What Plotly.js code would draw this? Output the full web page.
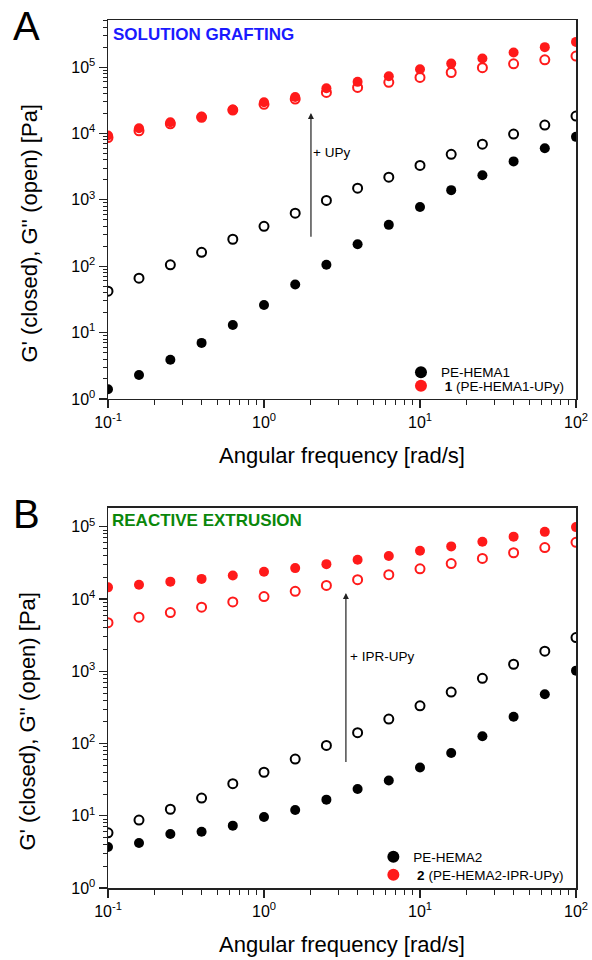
<!DOCTYPE html>
<html><head><meta charset="utf-8">
<script src="https://cdn.plot.ly/plotly-3.0.1.min.js"></script>
<style>html,body{margin:0;padding:0;background:#fff;}#chart{width:592px;height:960px;}</style>
</head><body><div id="chart"></div>
<script>
// Angular frequency [rad/s]
const freq = [0.1,0.158,0.251,0.398,0.631,1,1.585,2.512,3.981,6.31,10,15.85,25.12,39.81,63.1,100];

// Panel A – solution grafting
const A_hema1_Gp  = [1.4,2.3,3.9,7,13,26,53,105,215,420,780,1400,2350,3800,6000,8900];
const A_hema1_Gpp = [42,66,105,162,255,400,630,980,1500,2200,3300,4850,6900,9800,13400,18300];
const A_upy_Gp    = [9300,12000,14800,18000,23000,29500,35500,48000,60000,73000,93000,113000,135000,166000,200000,240000];
const A_upy_Gpp   = [8700,11000,14000,17500,22500,27500,33000,41500,49500,59000,70000,83000,98000,112000,129000,147000];

// Panel B – reactive extrusion
const B_hema2_Gp  = [3.7,4.2,5.6,6.0,7.3,9.6,12,16.7,23.5,30.7,46.5,74,126,235,480,1020];
const B_hema2_Gpp = [5.8,8.7,12.3,17.6,27.8,40,61,94,141,218,333,515,800,1250,1900,2930];
const B_ipr_Gp    = [14500,15800,17400,19000,21200,23800,26800,30400,35000,39500,46500,53500,62000,73000,85000,99000];
const B_ipr_Gpp   = [4700,5600,6500,7700,9100,10800,12800,15400,18500,21700,26200,31000,36400,43700,51500,61000];

const legendA = ['PE-HEMA1', ' <b>1</b> (PE-HEMA1-UPy)'];
const legendB = ['PE-HEMA2', ' <b>2</b> (PE-HEMA2-IPR-UPy)'];

const xTickVals = [0.1,1,10,100];
const xTickText = ['10<sup>-1</sup>','10<sup>0</sup>','10<sup>1</sup>','10<sup>2</sup>'];
const yTickVals = [1,10,100,1000,10000,100000];
const yTickText = ['10<sup>0</sup>','10<sup>1</sup>','10<sup>2</sup>','10<sup>3</sup>','10<sup>4</sup>','10<sup>5</sup>'];

function minorVals(lo, hi){ const v=[]; for(let e=lo;e<hi;e++){for(let k=2;k<=9;k++){v.push(k*Math.pow(10,e));}} return v; }

const FONT = 'Liberation Sans, Arial, sans-serif';
const RED = '#ff1a1a', BLACK = '#000000';
const YTITLE = "G' (closed), G'' (open) [Pa]";
const XTITLE = 'Angular frequency [rad/s]';

function filled(x,y,color,name,xa,ya,leg){
  return {x:x,y:y,type:'scatter',mode:'markers',name:name,xaxis:xa,yaxis:ya,legend:leg,
    marker:{symbol:'circle',size:10,color:color,line:{width:0}}};
}
function open(x,y,color,xa,ya){
  return {x:x,y:y,type:'scatter',mode:'markers',showlegend:false,xaxis:xa,yaxis:ya,
    marker:{symbol:'circle-open',size:9,color:color,line:{width:2,color:color}}};
}

const data = [
  filled(freq,A_hema1_Gp,BLACK,legendA[0],'x','y','legend'),
  filled(freq,A_upy_Gp,RED,legendA[1],'x','y','legend2'),
  open(freq,A_hema1_Gpp,BLACK,'x','y'),
  open(freq,A_upy_Gpp,RED,'x','y'),
  filled(freq,B_hema2_Gp,BLACK,legendB[0],'x2','y2','legend3'),
  filled(freq,B_ipr_Gp,RED,legendB[1],'x2','y2','legend4'),
  open(freq,B_hema2_Gpp,BLACK,'x2','y2'),
  open(freq,B_ipr_Gpp,RED,'x2','y2')
];

function xAxis(anchor){
  return {type:'log',range:[-1,2],anchor:anchor,domain:[0,1],
    showline:true,mirror:true,linecolor:'#222',linewidth:1.5,
    ticks:'outside',ticklen:8,tickwidth:1.2,tickcolor:'#222',
    tickmode:'array',tickvals:xTickVals,ticktext:xTickText,
    tickfont:{family:FONT,size:16,color:'#000'},
    showgrid:false,zeroline:false,
    minor:{tickmode:'array',tickvals:minorVals(-1,2),ticks:'outside',ticklen:5,tickwidth:1,tickcolor:'#222',showgrid:false},
    title:{text:XTITLE,font:{family:FONT,size:22,color:'#000'},standoff:18}};
}
function yAxis(anchor,domain,top){
  return {type:'log',range:[0,top],anchor:anchor,domain:domain,
    showline:true,mirror:true,linecolor:'#222',linewidth:1.5,
    ticks:'outside',ticklen:8,tickwidth:1.2,tickcolor:'#222',
    tickmode:'array',tickvals:yTickVals,ticktext:yTickText,
    tickfont:{family:FONT,size:16,color:'#000'},
    showgrid:false,zeroline:false,
    minor:{tickmode:'array',tickvals:minorVals(0,6),ticks:'outside',ticklen:4,tickwidth:1,tickcolor:'#222',showgrid:false}};
}
function leg(x,y){
  return {x:x,y:y,xanchor:'left',yanchor:'middle',bgcolor:'rgba(0,0,0,0)',
    font:{family:FONT,size:13.5,color:'#000'},itemsizing:'constant'};
}

const L = Math.log10;
const layout = {
  width:592,height:960,
  margin:{l:108,r:16,t:20,b:72},
  paper_bgcolor:'#fff',plot_bgcolor:'#fff',
  font:{family:FONT,color:'#000'},
  xaxis:xAxis('y'),
  yaxis:yAxis('x',[0.5634,1],5.71),
  xaxis2:xAxis('y2'),
  yaxis2:yAxis('x2',[0,0.4378],5.26),
  legend:leg(0.626,0.5940),
  legend2:leg(0.626,0.5785),
  legend3:leg(0.567,0.0357),
  legend4:leg(0.567,0.0150),
  annotations:[
    {text:'A',xref:'paper',yref:'paper',x:-0.207,y:0.9931,xanchor:'left',yanchor:'middle',showarrow:false,font:{family:FONT,size:40,color:'#000'}},
    {text:'B',xref:'paper',yref:'paper',x:-0.207,y:0.4309,xanchor:'left',yanchor:'middle',showarrow:false,font:{family:FONT,size:40,color:'#000'}},
    {text:YTITLE,xref:'paper',yref:'paper',x:-0.168,y:0.7546,xanchor:'center',yanchor:'middle',textangle:-90,showarrow:false,font:{family:FONT,size:22,color:'#000'}},
    {text:YTITLE,xref:'paper',yref:'paper',x:-0.170,y:0.1924,xanchor:'center',yanchor:'middle',textangle:-90,showarrow:false,font:{family:FONT,size:22,color:'#000'}},
    {text:'<b>SOLUTION GRAFTING</b>',xref:'x domain',yref:'y domain',x:0.006,y:0.963,xanchor:'left',yanchor:'middle',showarrow:false,font:{family:FONT,size:17,color:'#1a1aff'}},
    {text:'<b>REACTIVE EXTRUSION</b>',xref:'x2 domain',yref:'y2 domain',x:0.004,y:0.966,xanchor:'left',yanchor:'middle',showarrow:false,font:{family:FONT,size:17,color:'#0a870a'}},
    {text:'',xref:'x',yref:'y',x:L(2.0),y:L(20400),axref:'x',ayref:'y',ax:L(2.0),ay:L(265),showarrow:true,arrowhead:2,arrowsize:1,arrowwidth:1.2,arrowcolor:'#222'},
    {text:'+ UPy',xref:'x',yref:'y',x:0.30,y:3.72,xanchor:'left',yanchor:'middle',showarrow:false,font:{family:FONT,size:13.5,color:'#000'}},
    {text:'',xref:'x2',yref:'y2',x:L(3.35),y:L(12100),axref:'x2',ayref:'y2',ax:L(3.35),ay:L(53),showarrow:true,arrowhead:2,arrowsize:1,arrowwidth:1.2,arrowcolor:'#222'},
    {text:'+ IPR-UPy',xref:'x2',yref:'y2',x:0.539,y:3.20,xanchor:'left',yanchor:'middle',showarrow:false,font:{family:FONT,size:13.5,color:'#000'}}
  ]
};

Plotly.newPlot('chart',data,layout,{displayModeBar:false,staticPlot:true});
</script>
</body></html>
